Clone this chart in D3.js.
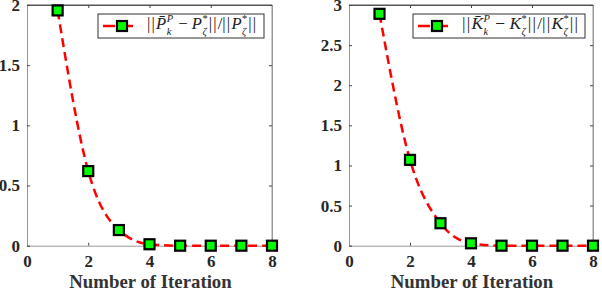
<!DOCTYPE html>
<html><head><meta charset="utf-8">
<script src="https://cdn.jsdelivr.net/npm/d3@7"></script>
<style>
body{margin:0;background:#fff;}
svg{display:block;}
</style></head>
<body><svg id="c" width="602" height="291"></svg>
<script>
const iterations = [1,2,3,4,5,6,7,8];
const errP = [1.955,0.62,0.13,0.012,0,0,0,0];
const errK = [2.89,1.07,0.28,0.03,0,0,0,0];
const xTicks = [0,2,4,6,8];
const yTicksP = [0,0.5,1,1.5,2];
const yTicksK = [0,0.5,1,1.5,2,2.5,3];
const xLabel = "Number of Iteration";

const svg = d3.select("#c");
const SERIF = "'Liberation Serif','Times New Roman',serif";

function panel(opt){
  const g = svg.append("g");
  const x = d3.scaleLinear().domain([0,8]).range([opt.left,opt.right]);
  const y = d3.scaleLinear().domain([0,opt.ymax]).range([opt.bottom,opt.top]);
  const tc = "#262626";
  g.append("line").attr("x1",x(0)).attr("x2",x(8)).attr("y1",y(opt.ymax)).attr("y2",y(opt.ymax)).attr("stroke","#555").attr("stroke-width",1);
  g.append("line").attr("x1",x(8)).attr("x2",x(8)).attr("y1",y(0)).attr("y2",y(opt.ymax)).attr("stroke","#999").attr("stroke-width",1);
  const ax = g.append("g").attr("transform",`translate(0,${y(0)})`)
    .call(d3.axisBottom(x).tickValues(xTicks).tickSize(-3).tickPadding(15).tickFormat(d3.format("d")));
  const axTop = g.append("g").attr("transform",`translate(0,${y(opt.ymax)})`)
    .call(d3.axisTop(x).tickValues(xTicks).tickSize(-3).tickFormat(""));
  const ay = g.append("g").attr("transform",`translate(${x(0)},0)`)
    .call(d3.axisLeft(y).tickValues(opt.yTicks).tickSize(-3).tickPadding(7).tickFormat(d=>d3.format("")(d)));
  const ayR = g.append("g").attr("transform",`translate(${x(8)},0)`)
    .call(d3.axisRight(y).tickValues(opt.yTicks).tickSize(-3).tickFormat(""));
  [ax,axTop,ay,ayR].forEach(a=>{
    a.attr("font-family",null).attr("font-size",null);
    a.select(".domain").attr("stroke","#999");
    a.selectAll(".tick line").attr("stroke","#444");
    a.selectAll("text").attr("fill",tc)
      .style("font-family",SERIF).style("font-size","17px").style("font-weight","bold");
  });
  axTop.select(".domain").attr("stroke","#555");
  ax.selectAll("text").attr("dy","0.35em");
  const line = d3.line().x((d,i)=>x(iterations[i])).y(d=>y(d)).curve(d3.curveMonotoneX);
  g.append("path").datum(opt.data).attr("d",line).attr("fill","none")
    .attr("stroke","#ff0000").attr("stroke-width",2.5).attr("stroke-dasharray","9,5");
  const ms = 10;
  g.selectAll("rect.m").data(opt.data).join("rect").attr("class","m")
    .attr("x",(d,i)=>x(iterations[i])-ms/2).attr("y",d=>y(d)-ms/2)
    .attr("width",ms).attr("height",ms).attr("fill","#00ff00")
    .attr("stroke","#000").attr("stroke-width",2.2);
  g.append("text").attr("x",(x(0)+x(8))/2+1).attr("y",288).attr("text-anchor","middle")
    .style("font-family",SERIF).style("font-size","18.8px").style("font-weight","bold")
    .attr("fill","#333").text(xLabel);
  const L = opt.legend;
  g.append("rect").attr("x",L.x).attr("y",L.y).attr("width",L.w).attr("height",L.h)
    .attr("fill","#fff").attr("stroke","#333").attr("stroke-width",1);
  const ly = L.y + L.h/2;
  g.append("line").attr("x1",L.x+5).attr("x2",L.x+35).attr("y1",ly).attr("y2",ly)
    .attr("stroke","#ff0000").attr("stroke-width",2.5).attr("stroke-dasharray","12,12");
  g.append("rect").attr("x",L.x+24-ms/2).attr("y",ly-ms/2).attr("width",ms).attr("height",ms)
    .attr("fill","#00ff00").attr("stroke","#000").attr("stroke-width",2.2);
  mathText(g, L.x+49, ly+3, opt.sym, L.textEnd);
}

function mathText(g, x0, base, sym, xEnd){
  const segs = [
    {t:"||",i:false,bar:true},
    {t:sym+"\u0304",i:true},
    {stack:[{t:"P",i:true},{t:"k",i:true}]},
    {t:" \u2212 ",i:false},
    {t:sym,i:true},
    {stack:[{t:"*",i:false},{t:"\u03B6",i:true}]},
    {t:"||",i:false,bar:true},
    {t:"/",i:false},
    {t:"||",i:false,bar:true},
    {t:sym,i:true},
    {stack:[{t:"*",i:false},{t:"\u03B6",i:true}]},
    {t:"||",i:false,bar:true}
  ];
  const grp = g.append("g");
  function render(fs, ss){
    grp.selectAll("*").remove();
    let x = x0;
    const mk = (t,it,size,xx,yy,ls)=>grp.append("text").attr("x",xx).attr("y",yy)
        .style("font-family",SERIF).style("font-size",size+"px")
        .style("font-style",it?"italic":"normal").attr("fill","#222")
        .style("letter-spacing",ls?ls+"px":null)
        .style("white-space","pre").text(t);
    segs.forEach(s=>{
      if(s.stack){
        const a = mk(s.stack[0].t,s.stack[0].i,ss,x+0.5,base-7);
        const b = mk(s.stack[1].t,s.stack[1].i,ss,x+0.5,base+5.5);
        x += Math.max(a.node().getComputedTextLength(),b.node().getComputedTextLength())+1.5;
      } else {
        const a = mk(s.t,s.i,fs,x,base,s.bar?1.2:0);
        x += a.node().getComputedTextLength();
      }
    });
    return x;
  }
  const fs = 16, ss = 10;
  const end = render(fs, ss);
  const k = (xEnd - x0)/(end - x0);
  if (Math.abs(k-1) > 0.02) render(fs*k, Math.min(ss*k, 10.5));
}

panel({left:27,right:272,top:5,bottom:245.7,ymax:2,yTicks:yTicksP,data:errP,sym:"P",
  legend:{x:98,y:14,w:166,h:24,textEnd:258}});
panel({left:349,right:593,top:5,bottom:245.7,ymax:3,yTicks:yTicksK,data:errK,sym:"K",
  legend:{x:413,y:14,w:172,h:24,textEnd:581}});
</script></body></html>
